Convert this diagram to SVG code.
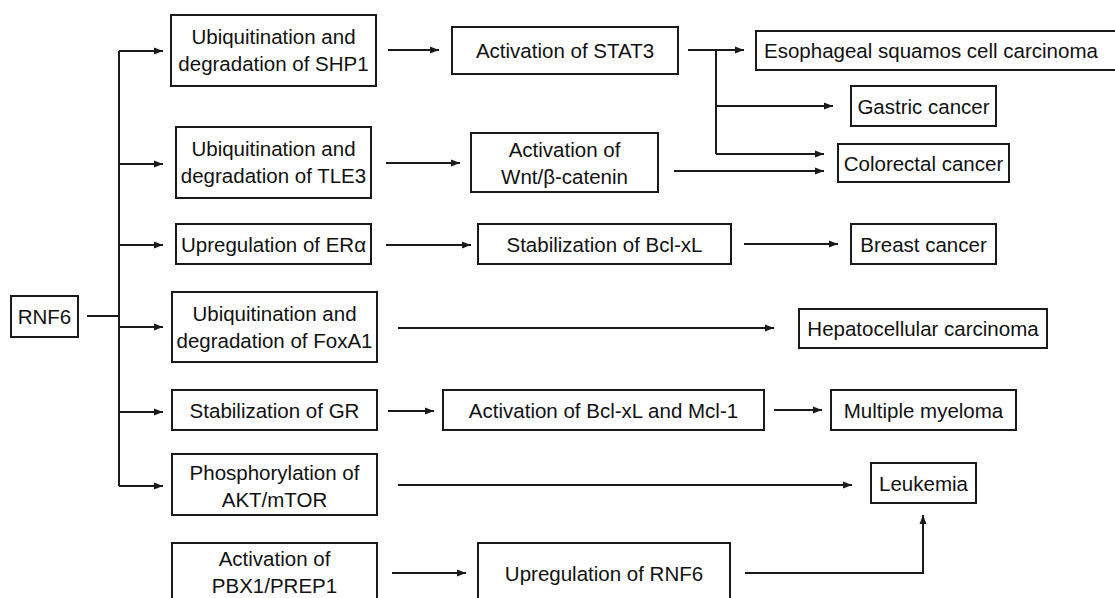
<svg xmlns="http://www.w3.org/2000/svg" width="1115" height="598" viewBox="0 0 1115 598">
<style>
rect{fill:#fff;stroke:#1a1a1a;stroke-width:2}
text{font-family:"Liberation Sans",Arial,sans-serif;font-size:20.5px;fill:#111;text-anchor:middle}
.c{fill:none;stroke:#1a1a1a;stroke-width:2}
</style>
<defs>
<marker id="a" markerWidth="9" markerHeight="8" refX="9" refY="4" orient="auto" markerUnits="userSpaceOnUse">
<path d="M0,0.5 L9,4 L0,7.5 Z" fill="#1a1a1a"/>
</marker>
</defs>
<rect width="1115" height="598" style="fill:#fff;stroke:none"/>
<g id="connectors">
<path class="c" d="M87,316 H119"/>
<path class="c" d="M119,51 V486"/>
<path class="c" marker-end="url(#a)" d="M119,51 H163"/>
<path class="c" marker-end="url(#a)" d="M119,164 H163"/>
<path class="c" marker-end="url(#a)" d="M119,245 H163"/>
<path class="c" marker-end="url(#a)" d="M119,327 H163"/>
<path class="c" marker-end="url(#a)" d="M119,412 H163"/>
<path class="c" marker-end="url(#a)" d="M119,486 H163"/>
<path class="c" marker-end="url(#a)" d="M388,50 H439"/>
<path class="c" marker-end="url(#a)" d="M688,50 H744"/>
<path class="c" d="M716,50 V154"/>
<path class="c" marker-end="url(#a)" d="M716,106 H833"/>
<path class="c" marker-end="url(#a)" d="M716,154 H824"/>
<path class="c" marker-end="url(#a)" d="M386,163 H460"/>
<path class="c" marker-end="url(#a)" d="M674,171 H824"/>
<path class="c" marker-end="url(#a)" d="M386,245 H471"/>
<path class="c" marker-end="url(#a)" d="M744,244 H838"/>
<path class="c" marker-end="url(#a)" d="M398,328 H774"/>
<path class="c" marker-end="url(#a)" d="M388,411 H434"/>
<path class="c" marker-end="url(#a)" d="M774,410 H822"/>
<path class="c" marker-end="url(#a)" d="M398,485 H852"/>
<path class="c" marker-end="url(#a)" d="M392,573 H466"/>
<path class="c" marker-end="url(#a)" d="M745,573 H923 V515"/>
</g>
<g id="rnf6"><rect x="11" y="296" width="67" height="41"/><text x="44.5" y="324">RNF6</text></g>
<g id="shp1"><rect x="171" y="15" width="205" height="71"/><text x="273.5" y="44">Ubiquitination and</text><text x="273.5" y="71">degradation of SHP1</text></g>
<g id="tle3"><rect x="176" y="127" width="195" height="71"/><text x="273.5" y="156">Ubiquitination and</text><text x="273.5" y="183">degradation of TLE3</text></g>
<g id="era"><rect x="176" y="224" width="195" height="40"/><text x="273.5" y="252">Upregulation of ERα</text></g>
<g id="foxa1"><rect x="172" y="292" width="205" height="70"/><text x="274.5" y="321">Ubiquitination and</text><text x="274.5" y="348">degradation of FoxA1</text></g>
<g id="gr"><rect x="172" y="390" width="205" height="40"/><text x="274.5" y="418">Stabilization of GR</text></g>
<g id="akt"><rect x="172" y="454" width="205" height="61"/><text x="274.5" y="480">Phosphorylation of</text><text x="274.5" y="507">AKT/mTOR</text></g>
<g id="pbx1"><rect x="172" y="543" width="205" height="70"/><text x="274.5" y="566">Activation of</text><text x="274.5" y="593">PBX1/PREP1</text></g>
<g id="stat3"><rect x="452" y="27" width="226" height="47"/><text x="565" y="58">Activation of STAT3</text></g>
<g id="wnt"><rect x="471" y="133" width="187" height="59"/><text x="564.5" y="157">Activation of</text><text x="564.5" y="184">Wnt/β-catenin</text></g>
<g id="bclxl"><rect x="478" y="224" width="253" height="40"/><text x="604.5" y="252">Stabilization of Bcl-xL</text></g>
<g id="mcl1"><rect x="443" y="390" width="321" height="40"/><text x="603.5" y="418">Activation of Bcl-xL and Mcl-1</text></g>
<g id="uprnf6"><rect x="478" y="543" width="252" height="70"/><text x="604" y="581">Upregulation of RNF6</text></g>
<g id="escc"><rect x="756" y="31" width="370" height="39"/><text x="764" y="58" style="text-anchor:start">Esophageal squamos cell carcinoma</text></g>
<g id="gastric"><rect x="851" y="86" width="145" height="40"/><text x="923.5" y="114">Gastric cancer</text></g>
<g id="colorectal"><rect x="838" y="144" width="171" height="38"/><text x="923.5" y="171">Colorectal cancer</text></g>
<g id="breast"><rect x="851" y="224" width="145" height="40"/><text x="923.5" y="252">Breast cancer</text></g>
<g id="hcc"><rect x="799" y="309" width="248" height="39"/><text x="923" y="336">Hepatocellular carcinoma</text></g>
<g id="mm"><rect x="831" y="390" width="185" height="40"/><text x="923.5" y="418">Multiple myeloma</text></g>
<g id="leukemia"><rect x="871" y="463" width="105" height="40"/><text x="923.5" y="491">Leukemia</text></g>
</svg>
